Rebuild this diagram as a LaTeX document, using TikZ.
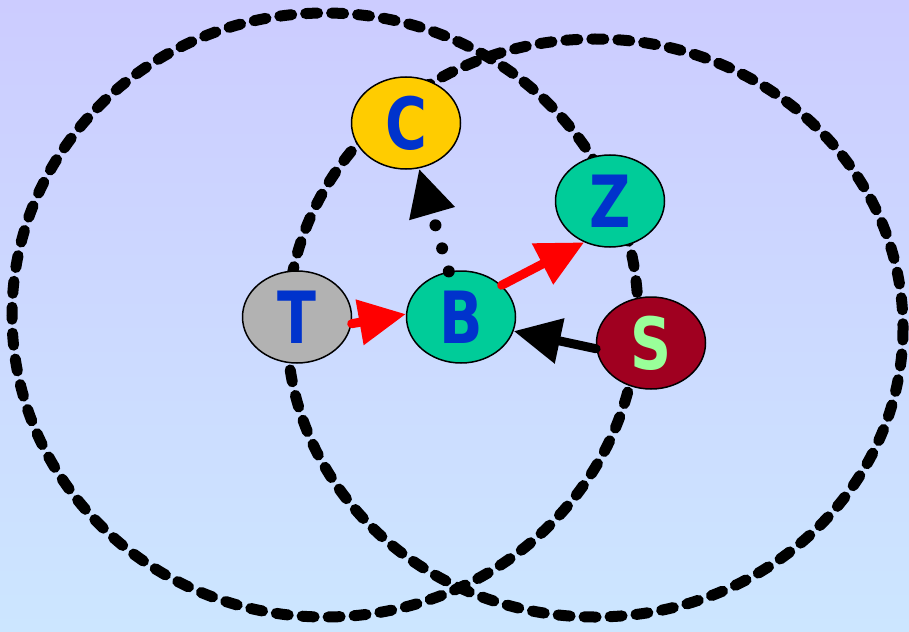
\documentclass[tikz,border=0pt]{standalone}
\usepackage{fontspec}
\newfontfamily\lblfont{DejaVu Sans Condensed Bold}[FakeStretch=0.88]
\usetikzlibrary{arrows.meta, shapes.geometric}

\definecolor{bgtop}{HTML}{CCCCFF}
\definecolor{bgbot}{HTML}{CCE6FF}
\definecolor{lblblue}{HTML}{0033CC}
\definecolor{cfill}{HTML}{FFCC00}
\definecolor{tfill}{HTML}{B2B2B2}
\definecolor{greenfill}{HTML}{00CC99}
\definecolor{sfill}{HTML}{A00020}
\definecolor{slbl}{HTML}{99FF99}

\begin{document}
\begin{tikzpicture}[x=1pt, y=-1pt,
  state/.style={ellipse, draw, line width=1.5pt, minimum width=109pt, minimum height=92pt,
    inner sep=0pt, font=\lblfont\fontsize{72}{72}\selectfont, text=lblblue},
  ring/.style={line width=11pt, line cap=round, dash pattern=on 12pt off 14pt},
  push/.style={line width=9pt, line cap=round, -{Triangle[length=47pt,width=44pt]}}]
  \shade[top color=bgtop, bottom color=bgbot] (0,0) rectangle (909,631);
  \useasboundingbox (0,0) rectangle (909,631);

  % the two rings
  \draw[ring] (325,315) ellipse [x radius=313, y radius=302];
  \draw[ring] (595,328) ellipse [x radius=308, y radius=289];

  \node[state, fill=cfill] (C) at (406,123) {C};
  \node[state, fill=greenfill] (Z) at (610,201) {Z};
  \node[state, fill=tfill] (T) at (297,317) {T};
  \node[state, fill=greenfill] (B) at (461,317) {B};
  \node[state, fill=sfill, text=slbl] (S) at (651,343) {S};

  \draw[push, red] (T.-7) -- (B.177);
  \draw[push, red] (B.38) -- (Z.238);
  \draw[push] (S.186) -- (B.-15);
  \draw[push, line width=12pt, dash pattern=on 0pt off 24pt] (B.105) -- (C.286);
\end{tikzpicture}
\end{document}
